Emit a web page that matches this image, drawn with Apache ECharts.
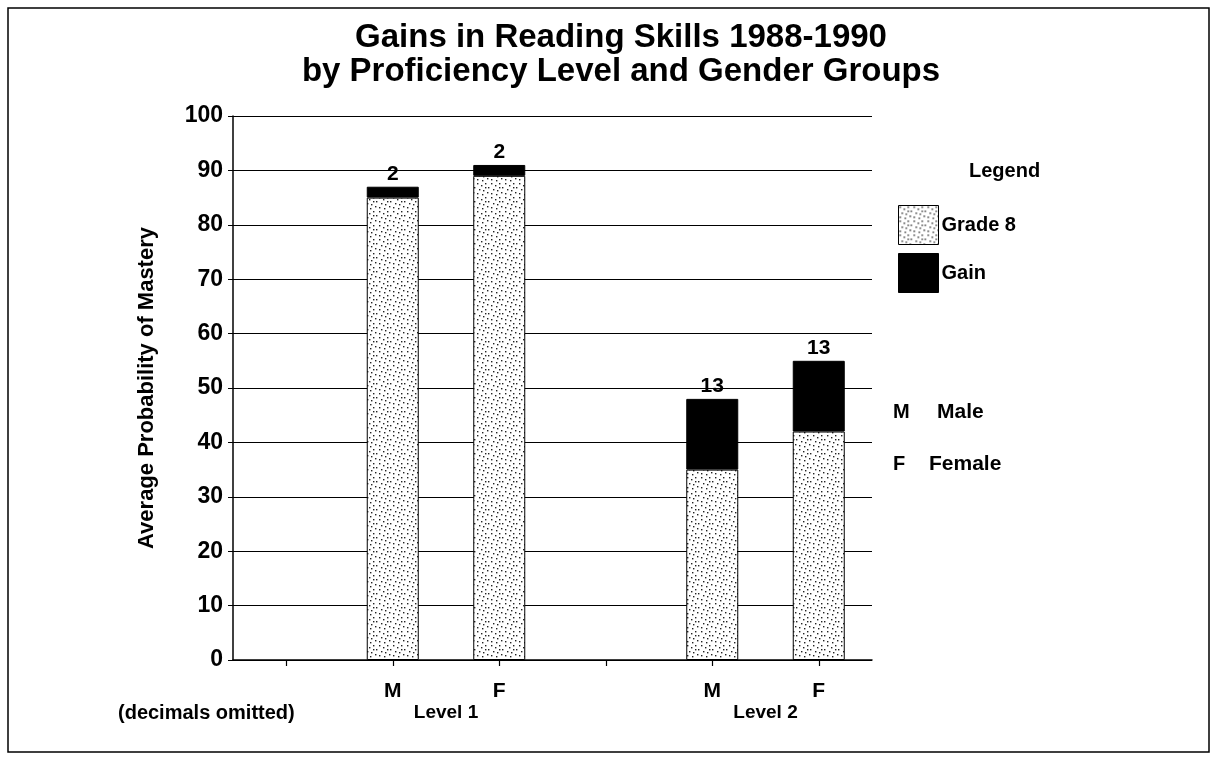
<!DOCTYPE html>
<html>
<head>
<meta charset="utf-8">
<script src="https://cdn.jsdelivr.net/npm/echarts@6/dist/echarts.min.js"></script>
<style>
html,body{margin:0;padding:0;background:#fff;}
#chart{width:1217px;height:766px;}
</style>
</head>
<body>
<div id="chart"></div>
<script>
const categories = ['', 'M', 'F', '', 'M', 'F'];
const grade8 = [null, 85, 89, null, 35, 42];
const gain = [null, 2, 2, null, 13, 13];
const groupLabels = ['Level 1', 'Level 2'];
const groupPositions = [1.5, 4.5];

function makeStipple() {
  const c = document.createElement('canvas');
  c.width = 14; c.height = 14;
  const g = c.getContext('2d');
  g.fillStyle = '#ffffff';
  g.fillRect(0, 0, 14, 14);
  g.fillStyle = '#222';
  const dots = [[1,1],[5,3],[9,1],[12,5],[3,7],[7,8],[11,10],[1,11],[6,12],[9,5]];
  dots.forEach(d => g.fillRect(d[0], d[1], 1.4, 1.4));
  return c;
}
const stipple = makeStipple();
const font = "'Liberation Sans', Arial, Helvetica, sans-serif";

const chart = echarts.init(document.getElementById('chart'));
chart.setOption({
  backgroundColor: '#fff',
  animation: false,
  textStyle: { fontFamily: font, color: '#000' },
  title: {
    text: 'Gains in Reading Skills 1988-1990\nby Proficiency Level and Gender Groups',
    left: 616, textAlign: 'center', top: 16,
    textStyle: { fontFamily: font, fontSize: 33, fontWeight: 'bold', color: '#000', lineHeight: 34 }
  },
  legend: {
    data: ['Grade 8', 'Gain'],
    orient: 'vertical', left: 893, top: 200,
    icon: 'rect',
    itemWidth: 40, itemHeight: 39, itemGap: 8,
    textStyle: { fontFamily: font, fontSize: 20, color: '#000', fontWeight: 'bold', padding: [0, 0, 0, -2] },
    itemStyle: { borderColor: '#000', borderWidth: 1 }
  },
  grid: { left: 233, right: 345, top: 116, bottom: 106, containLabel: false },
  xAxis: [{
    type: 'category', data: categories, boundaryGap: true,
    axisLine: { lineStyle: { color: '#000', width: 1.5 } },
    axisTick: { show: true, inside: false, interval: 0, alignWithLabel: true, length: 6, lineStyle: { color: '#000', width: 1.2 } },
    axisLabel: { interval: 0, margin: 21, fontSize: 21, fontWeight: 'bold', color: '#000', fontFamily: font },
    splitLine: { show: false }
  }, {
    type: 'value', min: -0.5, max: 5.5, position: 'bottom',
    axisLine: { show: false }, axisTick: { show: false }, splitLine: { show: false },
    axisLabel: {
      customValues: groupPositions, margin: 43, fontSize: 19, fontWeight: 'bold', color: '#000', fontFamily: font,
      formatter: v => groupLabels[groupPositions.indexOf(v)] || ''
    }
  }],
  yAxis: {
    type: 'value', min: 0, max: 100, interval: 10,
    name: 'Average Probability of Mastery', nameLocation: 'middle', nameGap: 75, nameRotate: 90,
    nameTextStyle: { fontSize: 22, fontWeight: 'bold', color: '#000', fontFamily: font, padding: [0, 0, 0, 0] },
    axisLine: { show: true, onZero: false, lineStyle: { color: '#000', width: 1.5 } },
    axisTick: { show: true, length: 5, lineStyle: { color: '#000' } },
    axisLabel: { fontSize: 23, fontWeight: 'bold', color: '#000', margin: 10, fontFamily: font },
    splitLine: { show: true, lineStyle: { color: '#000', width: 1.2 } }
  },
  series: [{
    name: 'Grade 8', type: 'bar', stack: 's', barWidth: 52, data: grade8,
    itemStyle: { color: { image: stipple, repeat: 'repeat' }, borderColor: '#000', borderWidth: 1 }
  }, {
    name: 'Gain', type: 'bar', stack: 's', barWidth: 52, data: gain,
    itemStyle: { color: '#000', borderColor: '#000', borderWidth: 1 },
    label: { show: true, position: 'top', distance: 2, fontSize: 21, fontWeight: 'bold', color: '#000', fontFamily: font, formatter: '{c}' }
  }],
  graphic: [
    { type: 'rect', shape: { x: 8, y: 8, width: 1201, height: 744 }, style: { fill: 'none', stroke: '#000', lineWidth: 1.5 } },
    { type: 'text', left: 969, top: 161, style: { text: 'Legend', font: "bold 20px " + font, fill: '#000' } },
    { type: 'text', left: 893, top: 402, style: { text: 'M', font: "bold 20px " + font, fill: '#000' } },
    { type: 'text', left: 937, top: 402, style: { text: 'Male', font: "bold 21px " + font, fill: '#000' } },
    { type: 'text', left: 893, top: 454, style: { text: 'F', font: "bold 20px " + font, fill: '#000' } },
    { type: 'text', left: 929, top: 454, style: { text: 'Female', font: "bold 21px " + font, fill: '#000' } },
    { type: 'text', left: 118, top: 703, style: { text: '(decimals omitted)', font: "bold 20px " + font, fill: '#000' } }
  ]
});
</script>
</body>
</html>
